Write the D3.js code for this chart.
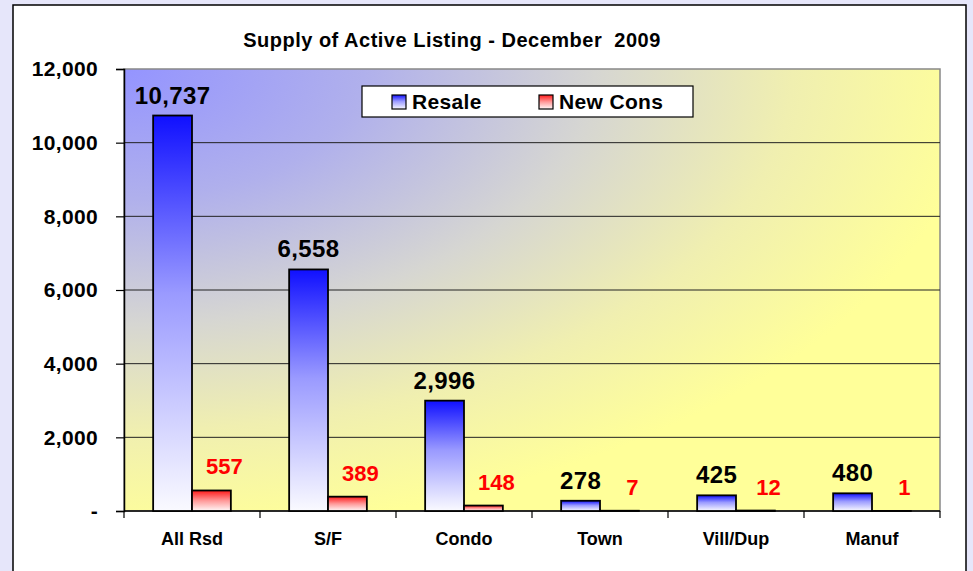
<!DOCTYPE html>
<html>
<head>
<meta charset="utf-8">
<script src="https://cdn.jsdelivr.net/npm/d3@7"></script>
<style>
  html, body { margin: 0; padding: 0; background: #e6e6fa; }
  svg { display: block; font-family: "Liberation Sans", Arial, sans-serif; }
  text { white-space: pre; }
</style>
</head>
<body>
<svg id="chart" width="973" height="571"></svg>
<script>
const title = "Supply of Active Listing - December  2009";
const categories = ["All Rsd", "S/F", "Condo", "Town", "Vill/Dup", "Manuf"];
const seriesNames = ["Resale", "New Cons"];
const resale = [10737, 6558, 2996, 278, 425, 480];
const newCons = [557, 389, 148, 7, 12, 1];
const yTicks = [0, 2000, 4000, 6000, 8000, 10000, 12000];

const svg = d3.select("#chart");
const plot = { left: 124, right: 940, top: 69, bottom: 511 };

const defs = svg.append("defs");
const bg = defs.append("radialGradient").attr("id", "bgGrad")
  .attr("cx", 0).attr("cy", 0).attr("r", 1.05).attr("fx", 0).attr("fy", 0);
bg.append("stop").attr("offset", "0").attr("stop-color", "#9494ff");
bg.append("stop").attr("offset", "0.28").attr("stop-color", "#b0b0ec");
bg.append("stop").attr("offset", "0.55").attr("stop-color", "#d6d6d2");
bg.append("stop").attr("offset", "0.78").attr("stop-color", "#f0efb0");
bg.append("stop").attr("offset", "1").attr("stop-color", "#ffff99");

const gBlue = defs.append("linearGradient").attr("id", "gBlue").attr("x1", 0).attr("y1", 0).attr("x2", 0).attr("y2", 1);
gBlue.append("stop").attr("offset", "0").attr("stop-color", "#1010ff");
gBlue.append("stop").attr("offset", "0.45").attr("stop-color", "#9a9aff");
gBlue.append("stop").attr("offset", "1").attr("stop-color", "#fafaff");
const gRed = defs.append("linearGradient").attr("id", "gRed").attr("x1", 0).attr("y1", 0).attr("x2", 0).attr("y2", 1);
gRed.append("stop").attr("offset", "0").attr("stop-color", "#ff1a1a");
gRed.append("stop").attr("offset", "0.5").attr("stop-color", "#ff9a9a");
gRed.append("stop").attr("offset", "1").attr("stop-color", "#fff8f8");

svg.append("rect").attr("x", 13).attr("y", 5).attr("width", 953).attr("height", 580)
  .attr("fill", "#ffffff").attr("stroke", "#000").attr("stroke-width", 1.5);

svg.append("text").attr("x", 452).attr("y", 47).attr("text-anchor", "middle")
  .attr("font-size", 20).attr("letter-spacing", 0.5).attr("font-weight", "bold").attr("fill", "#000")
  .attr("xml:space", "preserve").text(title);

const x0 = d3.scaleBand().domain(categories).range([plot.left, plot.right]).padding(0);
const x1 = d3.scaleBand().domain(seriesNames).range([0, x0.bandwidth()]).paddingInner(0).paddingOuter(0.75);
const y = d3.scaleLinear().domain([0, 12000]).range([plot.bottom, plot.top]);

svg.append("rect").attr("x", plot.left).attr("y", plot.top)
  .attr("width", plot.right - plot.left).attr("height", plot.bottom - plot.top)
  .attr("fill", "url(#bgGrad)").attr("stroke", "#888").attr("stroke-width", 1.5);

svg.append("g").selectAll("line").data(yTicks.filter(d => d > 0 && d < 12000)).join("line")
  .attr("x1", plot.left).attr("x2", plot.right)
  .attr("y1", d => y(d)).attr("y2", d => y(d))
  .attr("stroke", "#222").attr("stroke-width", 1);

const yAxis = d3.axisLeft(y).tickValues(yTicks).tickSize(8).tickPadding(18)
  .tickFormat(d => d === 0 ? "-" : d3.format(",")(d));
const yg = svg.append("g").attr("transform", `translate(${plot.left},0)`).call(yAxis);
yg.select(".domain").attr("stroke", "#000").attr("stroke-width", 1.5);
yg.selectAll(".tick line").attr("stroke", "#000").attr("stroke-width", 1.2);
yg.selectAll(".tick text").attr("font-size", 21).attr("letter-spacing", 0.35).attr("font-weight", "bold").attr("fill", "#000")
  .attr("font-family", "'Liberation Sans', Arial, sans-serif");

svg.append("line").attr("x1", plot.left).attr("x2", plot.right)
  .attr("y1", plot.bottom).attr("y2", plot.bottom).attr("stroke", "#000").attr("stroke-width", 1.5);
const bounds = categories.map(c => x0(c)).concat([x0(categories[categories.length - 1]) + x0.bandwidth()]);
svg.append("g").selectAll("line").data(bounds).join("line")
  .attr("x1", d => d).attr("x2", d => d).attr("y1", plot.bottom).attr("y2", plot.bottom + 7)
  .attr("stroke", "#000").attr("stroke-width", 1.2);
svg.append("g").selectAll("text").data(categories).join("text")
  .attr("x", d => x0(d) + x0.bandwidth() / 2).attr("y", 545)
  .attr("text-anchor", "middle").attr("font-size", 18).attr("font-weight", "bold").attr("fill", "#000")
  .text(d => d);

const rows = categories.map((c, i) => ({ cat: c, vals: [resale[i], newCons[i]] }));
const fills = ["url(#gBlue)", "url(#gRed)"];
const groups = svg.append("g").selectAll("g").data(rows).join("g")
  .attr("transform", d => `translate(${x0(d.cat)},0)`);
groups.selectAll("rect").data(d => d.vals.map((v, j) => ({ s: seriesNames[j], v, j }))).join("rect")
  .attr("x", d => x1(d.s)).attr("width", x1.bandwidth())
  .attr("y", d => y(d.v)).attr("height", d => plot.bottom - y(d.v))
  .attr("fill", d => fills[d.j]).attr("stroke", "#000").attr("stroke-width", 1.8);

groups.append("text")
  .attr("x", d => x1(seriesNames[0]) + x1.bandwidth() / 2)
  .attr("y", d => y(d.vals[0]) - 12)
  .attr("text-anchor", "middle").attr("font-size", 24).attr("letter-spacing", 0.4).attr("font-weight", "bold").attr("fill", "#000")
  .text(d => d3.format(",")(d.vals[0]));
groups.append("text")
  .attr("x", d => x1(seriesNames[1]) + x1.bandwidth() / 2 + 13)
  .attr("y", d => y(d.vals[1]) - 16)
  .attr("text-anchor", "middle").attr("font-size", 22).attr("font-weight", "bold").attr("fill", "#ff0000")
  .text(d => d3.format(",")(d.vals[1]));

const lg = svg.append("g");
lg.append("rect").attr("x", 362).attr("y", 86).attr("width", 331).attr("height", 31)
  .attr("fill", "#fff").attr("stroke", "#000").attr("stroke-width", 1.2);
const legPos = [{ sx: 392, tx: 412 }, { sx: 539, tx: 559 }];
seriesNames.forEach((s, j) => {
  lg.append("rect").attr("x", legPos[j].sx).attr("y", 95).attr("width", 14).attr("height", 14)
    .attr("fill", fills[j]).attr("stroke", "#000").attr("stroke-width", 1.2);
  lg.append("text").attr("x", legPos[j].tx).attr("y", 109).attr("font-size", 21).attr("letter-spacing", 0.35)
    .attr("font-weight", "bold").attr("fill", "#000").text(s);
});
</script>
</body>
</html>
